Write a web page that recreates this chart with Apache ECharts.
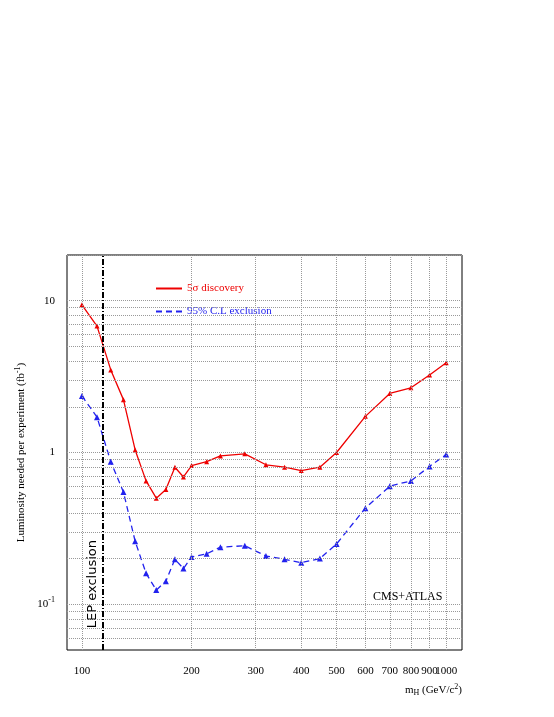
<!DOCTYPE html>
<html><head><meta charset="utf-8">
<script src="https://cdn.jsdelivr.net/npm/echarts@6/dist/echarts.min.js"></script>
<style>html,body{margin:0;padding:0;background:#fff}#c{width:554px;height:717px}</style>
</head><body><div id="c"></div>
<script>
const masses = [100,110,120,130,140,150,160,170,180,190,200,220,240,280,320,360,400,450,500,600,700,800,900,1000];
const discovery = [9.4,6.8,3.5,2.23,1.04,0.65,0.50,0.57,0.80,0.69,0.82,0.87,0.95,0.98,0.83,0.80,0.76,0.80,1.0,1.73,2.45,2.67,3.24,3.90];
const exclusion = [2.36,1.71,0.87,0.55,0.26,0.16,0.124,0.142,0.198,0.172,0.205,0.215,0.238,0.243,0.208,0.198,0.188,0.20,0.25,0.43,0.60,0.65,0.81,0.97];
const xTickLabels = [100,200,300,400,500,600,700,800,900,1000];
const yGridValues = [0.06,0.07,0.08,0.09,0.1,0.2,0.3,0.4,0.5,0.6,0.7,0.8,0.9,1,2,3,4,5,6,7,8,9,10,20];
const lepLimit = 114.4;

const F = 'Liberation Serif';
const grid = {type:'dotted', color:'#999', width:1};
const chart = echarts.init(document.getElementById('c'));
chart.setOption({
  animation:false,
  textStyle:{fontFamily:F},
  grid:{left:67,top:255,width:395,height:395,show:true,borderColor:'#000',borderWidth:1,backgroundColor:'transparent'},
  title:{text:'CMS+ATLAS',left:368,top:586,textStyle:{fontFamily:F,fontSize:12,fontWeight:'normal',color:'#000'}},
  legend:{left:150,top:278,orient:'vertical',itemGap:12,itemWidth:26,itemHeight:10,
    itemStyle:{opacity:0},
    data:[{name:'5σ discovery',textStyle:{color:'#e00'}},{name:'95% C.L exclusion',textStyle:{color:'#22e'}}],
    textStyle:{fontFamily:F,fontSize:11}},
  xAxis:{type:'log',logBase:10,min:91,max:1105,
    axisLine:{show:false},axisTick:{show:false},axisLabel:{show:false},splitLine:{show:false},
    name:'m{sub|H} (GeV/c{sup|2})',nameLocation:'end',nameGap:0,
    nameTextStyle:{fontFamily:F,fontSize:11,color:'#000',align:'right',verticalAlign:'top',padding:[33,0,0,0],
      rich:{sub:{fontSize:8,verticalAlign:'bottom',padding:[6,0,0,0]},sup:{fontSize:8,verticalAlign:'top',padding:[0,0,6,0]}}}},
  yAxis:{type:'log',logBase:10,min:0.05,max:20,
    axisLine:{show:false},axisTick:{show:false},splitLine:{show:false},
    axisLabel:{showMinLabel:false,showMaxLabel:false,fontFamily:F,fontSize:11,color:'#000',margin:12,
      formatter:v=>v>=9.9?'10':(v>=0.99?'1':(v>=0.099?'10{sup|-1}':'')),
      rich:{sup:{fontSize:8,verticalAlign:'top',padding:[0,0,8,0]}}},
    name:'Luminosity needed per experiment (fb{sup|-1})',nameLocation:'middle',nameGap:35,
    nameTextStyle:{fontFamily:F,fontSize:11,color:'#000',rich:{sup:{fontSize:8,verticalAlign:'top',padding:[0,0,6,0]}}}},
  series:[
    {name:'grid',type:'line',data:[],silent:true,
      markLine:{symbol:'none',silent:true,lineStyle:grid,
        label:{show:true,position:'start',distance:16,fontFamily:F,fontSize:11,color:'#000',formatter:p=>p.data.lbl||''},
        data:[...xTickLabels.map(v=>({xAxis:v,lbl:String(v)})),
              ...yGridValues.map(v=>({yAxis:v,lbl:''}))]}},
    {name:'lep',type:'line',data:[],silent:true,
      markLine:{symbol:'none',silent:true,lineStyle:{type:[6,2,1,2],color:'#000',width:2},
        label:{show:false},data:[{xAxis:lepLimit}]}},
    {name:'5σ discovery',type:'line',data:masses.map((m,i)=>[m,discovery[i]]),
      symbol:'triangle',symbolSize:5,color:'#e00',lineStyle:{width:1.3,color:'#e00'},itemStyle:{color:'#e00'}},
    {name:'95% C.L exclusion',type:'line',data:masses.map((m,i)=>[m,exclusion[i]]),
      symbol:'triangle',symbolSize:6,color:'#22e',lineStyle:{width:1.3,type:[6,4],color:'#22e'},itemStyle:{color:'#22e'}}
  ],
  graphic:[{type:'text',left:86,top:540,rotation:Math.PI/2,
    style:{text:'LEP exclusion',font:'13px "DejaVu Sans"',fill:'#000'}}]
});
</script></body></html>
